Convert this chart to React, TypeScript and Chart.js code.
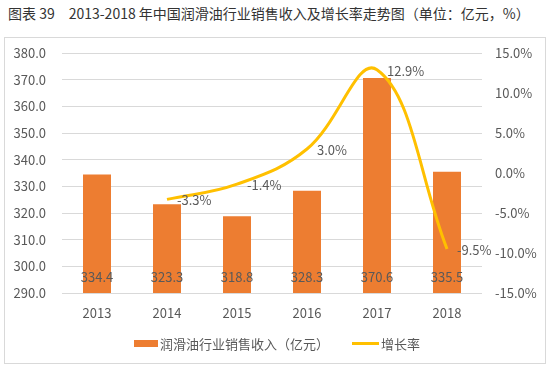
import React, { useEffect, useRef } from 'react';
import { Chart, registerables } from 'chart.js';

Chart.register(...registerables);

const categories = ['2013', '2014', '2015', '2016', '2017', '2018'];
const revenue = [334.4, 323.3, 318.8, 328.3, 370.6, 335.5];
const growth: (number | null)[] = [null, -3.3, -1.4, 3.0, 12.9, -9.5];
const leftAxisRange = [290, 380, 10];
const rightAxisRange = [-15, 15, 5];

const titleText = '图表 39\u30002013-2018 年中国润滑油行业销售收入及增长率走势图（单位：亿元，%）';
const revenueLabel = '润滑油行业销售收入（亿元）';
const growthLabel = '增长率';

const FONT = "'Noto Sans CJK SC', 'Noto Sans', sans-serif";
const BAR_COLOR = '#ED7D31';
const LINE_COLOR = '#FFC000';
const TEXT_COLOR = '#595959';

const labelPlugin = {
  id: 'valueLabels',
  afterDatasetsDraw(chart: any) {
    const ctx = chart.ctx;
    ctx.save();
    ctx.font = `13px ${FONT}`;
    ctx.fillStyle = TEXT_COLOR;
    const baseY = chart.scales.y.getPixelForValue(leftAxisRange[0]);
    chart.data.datasets.forEach((ds: any, di: number) => {
      const meta = chart.getDatasetMeta(di);
      const isBar = meta.type === 'bar';
      meta.data.forEach((el: any, i: number) => {
        const v = ds.data[i];
        if (v === null || v === undefined) return;
        if (isBar) {
          ctx.textAlign = 'center';
          ctx.textBaseline = 'middle';
          ctx.fillText(Number(v).toFixed(1), el.x, baseY - 16);
        } else {
          ctx.textAlign = 'left';
          ctx.textBaseline = 'middle';
          ctx.fillText(Number(v).toFixed(1) + '%', el.x + 10, el.y + 1);
        }
      });
    });
    ctx.restore();
  },
};

export default function App() {
  const canvasRef = useRef<HTMLCanvasElement | null>(null);

  useEffect(() => {
    if (!canvasRef.current) return;
    Chart.defaults.font.family = FONT;
    const chart = new Chart(canvasRef.current, {
      type: 'bar',
      data: {
        labels: categories,
        datasets: [
          {
            type: 'line',
            label: growthLabel,
            data: growth,
            yAxisID: 'y1',
            borderColor: LINE_COLOR,
            backgroundColor: LINE_COLOR,
            borderWidth: 3,
            pointRadius: 0,
            tension: 0.4,
            order: 0,
          } as any,
          {
            type: 'bar',
            label: revenueLabel,
            data: revenue,
            yAxisID: 'y',
            backgroundColor: BAR_COLOR,
            categoryPercentage: 1,
            barPercentage: 0.4,
            order: 1,
          } as any,
        ],
      },
      options: {
        responsive: false,
        animation: false,
        layout: { padding: { top: 53, bottom: 43, left: 0, right: 0 } },
        plugins: {
          legend: { display: false },
          tooltip: { enabled: false },
          title: { display: false },
        },
        scales: {
          x: {
            grid: { display: false, drawTicks: false },
            border: { display: false },
            ticks: { color: TEXT_COLOR, font: { size: 13, family: FONT }, padding: 12 },
            afterFit: (s: any) => { s.height = 32; },
          },
          y: {
            position: 'left',
            min: leftAxisRange[0],
            max: leftAxisRange[1],
            grid: { color: '#d9d9d9', drawTicks: false, lineWidth: 1 },
            border: { display: false },
            ticks: {
              stepSize: leftAxisRange[2],
              color: TEXT_COLOR,
              font: { size: 13, family: FONT },
              padding: 16,
              callback: (v: any) => Number(v).toFixed(1),
            },
            afterFit: (s: any) => { s.width = 62; },
          },
          y1: {
            position: 'right',
            min: rightAxisRange[0],
            max: rightAxisRange[1],
            grid: { display: false, drawTicks: false },
            border: { display: false },
            ticks: {
              stepSize: rightAxisRange[2],
              color: TEXT_COLOR,
              font: { size: 13, family: FONT },
              padding: 13,
              callback: (v: any) => Number(v).toFixed(1) + '%',
            },
            afterFit: (s: any) => { s.width = 68; },
          },
        },
      } as any,
      plugins: [labelPlugin],
    });
    return () => chart.destroy();
  }, []);

  return (
    <div style={{ position: 'absolute', left: 0, top: 0, width: 550, height: 368, background: '#fff', fontFamily: FONT }}>
      <div style={{ position: 'absolute', left: 8, top: 4, fontSize: 14, lineHeight: '18px', color: '#333', whiteSpace: 'nowrap' }}>
        {titleText}
      </div>
      <div style={{ position: 'absolute', left: 4, top: 37, width: 542, height: 327, boxSizing: 'border-box', border: '1px solid #d9d9d9' }} />
      <canvas ref={canvasRef} width={550} height={368} style={{ position: 'absolute', left: 0, top: 0, width: 550, height: 368 }} />
      <div style={{ position: 'absolute', left: 134, top: 334, height: 18, display: 'flex', alignItems: 'center', fontSize: 13, color: TEXT_COLOR, whiteSpace: 'nowrap' }}>
        <span style={{ display: 'inline-block', width: 24, height: 7, background: BAR_COLOR, marginRight: 2 }} />
        <span>{revenueLabel}</span>
        <span style={{ display: 'inline-block', width: 27, height: 3, background: LINE_COLOR, marginLeft: 23, marginRight: 2 }} />
        <span>{growthLabel}</span>
      </div>
    </div>
  );
}
